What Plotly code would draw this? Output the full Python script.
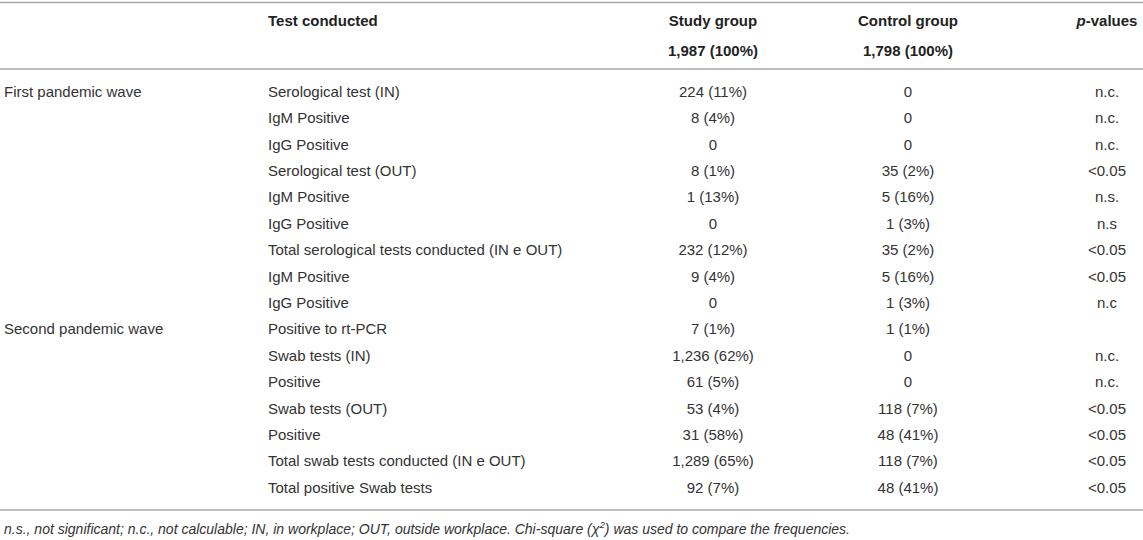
import plotly.graph_objects as go

# table contents
waves = ["First pandemic wave", "", "", "", "", "", "", "", "",
         "Second pandemic wave", "", "", "", "", "", ""]
tests = ["Serological test (IN)", "IgM Positive", "IgG Positive",
         "Serological test (OUT)", "IgM Positive", "IgG Positive",
         "Total serological tests conducted (IN e OUT)", "IgM Positive", "IgG Positive",
         "Positive to rt-PCR", "Swab tests (IN)", "Positive", "Swab tests (OUT)",
         "Positive", "Total swab tests conducted (IN e OUT)", "Total positive Swab tests"]
study = ["224 (11%)", "8 (4%)", "0", "8 (1%)", "1 (13%)", "0", "232 (12%)", "9 (4%)", "0",
         "7 (1%)", "1,236 (62%)", "61 (5%)", "53 (4%)", "31 (58%)", "1,289 (65%)", "92 (7%)"]
control = ["0", "0", "0", "35 (2%)", "5 (16%)", "1 (3%)", "35 (2%)", "5 (16%)", "1 (3%)",
           "1 (1%)", "0", "0", "118 (7%)", "48 (41%)", "118 (7%)", "48 (41%)"]
pvalues = ["n.c.", "n.c.", "n.c.", "<0.05", "n.s.", "n.s", "<0.05", "<0.05", "n.c",
           "", "n.c.", "n.c.", "<0.05", "<0.05", "<0.05", "<0.05"]

header_test = "Test conducted"
header_study = ["Study group", "1,987 (100%)"]
header_control = ["Control group", "1,798 (100%)"]
header_p = "<i>p</i>-values"
footnote = ("<i>n.s., not significant; n.c., not calculable; IN, in workplace; OUT, outside workplace. "
            "Chi-square (χ<sup>2</sup>) was used to compare the frequencies.</i>")

FONT = "Liberation Sans, Arial, Helvetica, sans-serif"
BODY = dict(family=FONT, size=15, color="#333333")
BOLD = dict(family=FONT, size=15, color="#222222", weight="bold")

# layout in page pixels (axes are set up so 1 unit = 1 px)
X_WAVE, X_TEST, X_STUDY, X_CTRL, X_P = 4, 268, 713, 908, 1107
FIRST_ROW, ROW_H = 93, 26.4
Y_H1, Y_H2 = 22, 52
Y_TOP, Y_MID, Y_BOT = 2.5, 69, 510
Y_NOTE = 530

row_y = [FIRST_ROW + i * ROW_H for i in range(len(tests))]


def column(x, texts, pos, font):
    # skip the blank cells so no empty text is drawn
    keep = [i for i, t in enumerate(texts) if t]
    return go.Scatter(x=[x] * len(keep), y=[row_y[i] for i in keep],
                      text=[texts[i] for i in keep], mode="text",
                      textposition=pos, textfont=font, cliponaxis=False,
                      hoverinfo="skip")


fig = go.Figure()

fig.add_trace(column(X_WAVE, waves, "middle right", BODY))
fig.add_trace(column(X_TEST, tests, "middle right", BODY))
fig.add_trace(column(X_STUDY, study, "middle center", BODY))
fig.add_trace(column(X_CTRL, control, "middle center", BODY))
fig.add_trace(column(X_P, pvalues, "middle center", BODY))

# header
fig.add_trace(go.Scatter(x=[X_TEST], y=[Y_H1], text=[header_test], mode="text",
                         textposition="middle right", textfont=BOLD, cliponaxis=False,
                         hoverinfo="skip"))
fig.add_trace(go.Scatter(x=[X_STUDY, X_STUDY, X_CTRL, X_CTRL, X_P],
                         y=[Y_H1, Y_H2, Y_H1, Y_H2, Y_H1],
                         text=header_study + header_control + [header_p], mode="text",
                         textposition="middle center", textfont=BOLD, cliponaxis=False,
                         hoverinfo="skip"))

# footnote
fig.add_trace(go.Scatter(x=[X_WAVE], y=[Y_NOTE], text=[footnote], mode="text",
                         textposition="middle right", cliponaxis=False, hoverinfo="skip",
                         textfont=dict(family=FONT, size=14, color="#333333")))

for yy in [Y_TOP, Y_MID, Y_BOT]:
    fig.add_shape(type="line", x0=0, x1=1143, y0=yy, y1=yy, xref="x", yref="y",
                  line=dict(color="#a8a8a8", width=1.6))

fig.update_layout(
    width=1143, height=540,
    margin=dict(l=0, r=0, t=0, b=0),
    paper_bgcolor="white", plot_bgcolor="white",
    showlegend=False,
    xaxis=dict(range=[0, 1143], visible=False, fixedrange=True),
    yaxis=dict(range=[540, 0], visible=False, fixedrange=True),
)

# drop the default 8px page margin so the figure fills the window
fig.write_html("out.html", config={"displayModeBar": False},
               post_script="document.body.style.margin='0';")
